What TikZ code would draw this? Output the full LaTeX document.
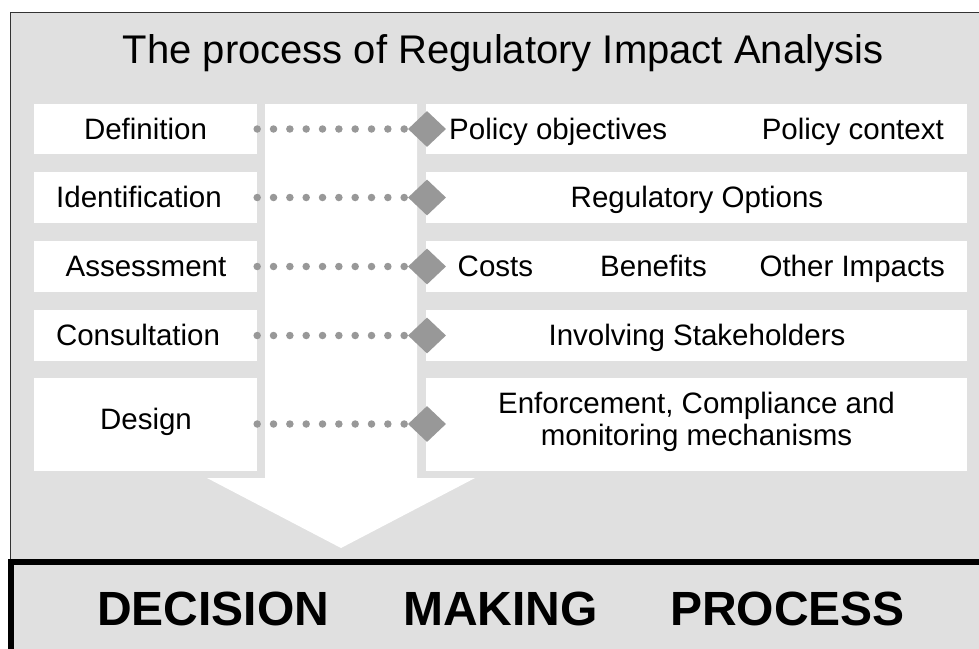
\documentclass[tikz,border=0pt]{standalone}
\usepackage{fontspec}
\setmainfont{Liberation Sans}
\usetikzlibrary{shapes.geometric}
\definecolor{bggray}{RGB}{224,224,224}
\definecolor{dotgray}{RGB}{152,152,152}
\begin{document}
\begin{tikzpicture}[x=1pt,y=-1pt,
  lbox/.style={fill=white, draw=none, minimum width=223pt, inner sep=0pt},
  rbox/.style={fill=white, draw=none, minimum width=541pt, inner sep=0pt},
  lbl/.style={inner sep=0pt, font=\fontsize{29.5}{32}\selectfont},
  dmd/.style={diamond, fill=dotgray, draw=none, minimum width=38pt, minimum height=36pt, inner sep=0pt},
  dotline/.style={draw=dotgray, line width=7.5pt, line cap=round, dash pattern=on 0pt off 16.33pt, shorten >=2.5pt},
  bigtxt/.style={inner sep=0pt, font=\bfseries\fontsize{48}{56}\selectfont}]
\clip (0,0) rectangle (979,648);
% background panel
\fill[bggray] (10,12) rectangle (979,562);
\draw[line width=1pt, black!80] (979,12) -- (10,12) -- (10,562);
% big arrow
\fill[white] (265,104) -- (417,104) -- (417,478) -- (475,478) -- (341,548) -- (207,478) -- (265,478) -- cycle;
% title
\node[anchor=base, inner sep=0pt, font=\fontsize{40}{48}\selectfont] (title) at (503,63) {The process of Regulatory Impact Analysis};
% left boxes
\node[lbox, minimum height=50pt] (L1) at (145.5,129) {};
\node[lbox, minimum height=51pt] (L2) at (145.5,197.5) {};
\node[lbox, minimum height=51pt] (L3) at (145.5,266.5) {};
\node[lbox, minimum height=51pt] (L4) at (145.5,335.5) {};
\node[lbox, minimum height=93pt] (L5) at (145.5,424.5) {};
% right boxes
\node[rbox, minimum height=50pt] (R1) at (696.5,129) {};
\node[rbox, minimum height=51pt] (R2) at (696.5,197.5) {};
\node[rbox, minimum height=51pt] (R3) at (696.5,266.5) {};
\node[rbox, minimum height=51pt] (R4) at (696.5,335.5) {};
\node[rbox, minimum height=93pt] (R5) at (696.5,424.5) {};
% left labels
\node[lbl, anchor=base] (t1) at (145.5,139) {Definition};
\node[lbl, anchor=base] (t2) at (139,207.5) {Identification};
\node[lbl, anchor=base] (t3) at (146,276.5) {Assessment};
\node[lbl, anchor=base] (t4) at (138,345.5) {Consultation};
\node[lbl, anchor=base] (t5) at (146,429) {Design};
% diamonds
\node[dmd] (D1) at (427,129) {};
\node[dmd] (D2) at (427,197.5) {};
\node[dmd] (D3) at (427,266.5) {};
\node[dmd] (D4) at (427,335.5) {};
\node[dmd] (D5) at (427,424) {};
% dotted connectors
\draw[dotline] (L1.east) -- (D1.west);
\draw[dotline] (L2.east) -- (D2.west);
\draw[dotline] (L3.east) -- (D3.west);
\draw[dotline] (L4.east) -- (D4.west);
\draw[dotline] (L5.east |- D5.west) -- (D5.west);
% right labels
\node[lbl, anchor=base west] (r1a) at (449,139) {Policy objectives};
\node[lbl, anchor=base east] (r1b) at (944,139) {Policy context};
\node[lbl, anchor=base] (r2) at (697,207.5) {Regulatory Options};
\node[lbl, anchor=base west] (r3a) at (457.5,276.5) {Costs};
\node[lbl, anchor=base west] (r3b) at (600,276.5) {Benefits};
\node[lbl, anchor=base east] (r3c) at (945,276.5) {Other Impacts};
\node[lbl, anchor=base] (r4) at (697,345.5) {Involving Stakeholders};
\node[lbl, anchor=base] (r5a) at (696.5,413) {Enforcement, Compliance and};
\node[lbl, anchor=base] (r5b) at (696.5,445) {monitoring mechanisms};
% bottom box
\draw[line width=6pt, fill=bggray] (10.5,562) rectangle (1000,700);
\node[bigtxt, anchor=base west] (b1) at (97,625) {DECISION};
\node[bigtxt, anchor=base west] (b2) at (403,625) {MAKING};
\node[bigtxt, anchor=base west] (b3) at (670,625) {PROCESS};
\end{tikzpicture}
\end{document}
